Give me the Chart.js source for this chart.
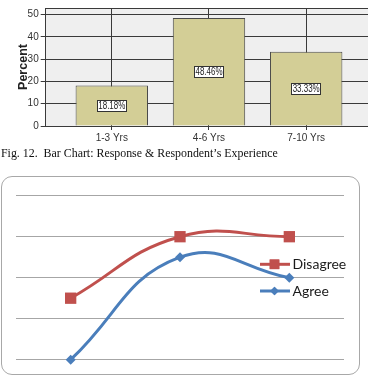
<!DOCTYPE html>
<html>
<head>
<meta charset="utf-8">
<script src="https://cdn.jsdelivr.net/npm/chart.js@4/dist/chart.umd.min.js"></script>
<style>
  html, body { margin:0; padding:0; background:#fff; width:368px; height:386px; overflow:hidden; position:relative; }
  #c1 { position:absolute; left:0; top:0; }
  #caption { position:absolute; left:1px; top:146px; font-family:"Liberation Serif","Times New Roman",serif; font-size:11.9px; line-height:14px; color:#111; white-space:nowrap; }
  #box { position:absolute; left:1px; top:176px; width:357px; height:197px; border:1.5px solid #a8a8a8; border-radius:11px; }
  #c2 { position:absolute; left:0; top:176px; }
</style>
</head>
<body>
<canvas id="c1" width="368" height="148"></canvas>
<div id="caption">Fig. 12.&nbsp; Bar Chart: Response &amp; Respondent’s Experience</div>
<div id="box"></div>
<canvas id="c2" width="368" height="210"></canvas>
<script>
// ---- Data: top bar chart ----
const barCategories = ['1-3 Yrs', '4-6 Yrs', '7-10 Yrs'];
const barPercent = [18.18, 48.46, 33.33];
const barYTicks = [0, 10, 20, 30, 40, 50];

// ---- Data: bottom line chart ----
const lineCategories = ['1-3 Yrs', '4-6 Yrs', '7-10 Yrs'];
const agreeValues = [0, 2.5, 2.0];
const disagreeValues = [1.5, 3.0, 3.0];
const lineSeriesNames = ['Agree', 'Disagree'];

// ---------- Top chart ----------
const plotFrame = {
  id: 'plotFrame',
  beforeDraw(chart) {
    const {ctx, chartArea: a} = chart;
    ctx.save();
    ctx.fillStyle = '#efefef';
    ctx.fillRect(a.left, a.top, a.right - a.left, a.bottom - a.top);
    ctx.restore();
  },
  afterDraw(chart) {
    const {ctx, chartArea: a} = chart;
    ctx.save();
    ctx.strokeStyle = '#3a3a3a';
    ctx.lineWidth = 1;
    ctx.beginPath();
    ctx.moveTo(a.left, Math.round(a.top) + 0.5);
    ctx.lineTo(a.right, Math.round(a.top) + 0.5);
    ctx.stroke();
    ctx.restore();
  }
};
const barLabels = {
  id: 'barLabels',
  afterDatasetsDraw(chart) {
    const {ctx} = chart;
    const meta = chart.getDatasetMeta(0);
    ctx.save();
    ctx.font = '10.5px "Liberation Sans", Arial, sans-serif';
    ctx.textAlign = 'center';
    ctx.textBaseline = 'middle';
    meta.data.forEach((bar, i) => {
      const txt = barPercent[i].toFixed(2) + '%';
      const cx = bar.x;
      const cy = (bar.y + bar.base) / 2;
      const sx = 0.76;
      const w = ctx.measureText(txt).width * sx + 3;
      const h = 12;
      ctx.fillStyle = '#ffffff';
      ctx.fillRect(Math.round(cx - w / 2), Math.round(cy - h / 2), Math.round(w), h);
      ctx.strokeStyle = '#333';
      ctx.lineWidth = 1;
      ctx.strokeRect(Math.round(cx - w / 2) + 0.5, Math.round(cy - h / 2) + 0.5, Math.round(w) - 1, h - 1);
      ctx.fillStyle = '#222';
      ctx.save();
      ctx.translate(cx, cy + 0.5);
      ctx.scale(sx, 1);
      ctx.fillText(txt, 0, 0);
      ctx.restore();
    });
    ctx.restore();
  }
};

new Chart(document.getElementById('c1'), {
  type: 'bar',
  data: {
    datasets: [{
      data: barPercent.map((v, i) => ({x: i, y: v})),
      backgroundColor: '#d3ce96',
      borderColor: '#4a4a4a',
      borderWidth: 1,
      categoryPercentage: 1,
      barPercentage: 0.745
    }]
  },
  options: {
    responsive: false,
    animation: false,
    layout: { padding: { top: 5.7, right: 0, left: 0, bottom: 0 } },
    plugins: { legend: { display: false }, tooltip: { enabled: false } },
    scales: {
      x: {
        type: 'linear',
        offset: false,
        min: -0.68,
        max: 2.636,
        afterFit(s) { s.height = 22; },
        afterBuildTicks(s) { s.ticks = barCategories.map((c, i) => ({value: i})); },
        ticks: {
          stepSize: 1,
          includeBounds: false,
          autoSkip: false,
          maxRotation: 0,
          padding: 2,
          color: '#333',
          font: { family: '"Liberation Sans", Arial, sans-serif', size: 10 },
          callback: (v) => barCategories[v] ?? ''
        },
        grid: { offset: false, color: '#3a3a3a', lineWidth: 1, tickLength: 4, drawTicks: true },
        border: { color: '#3a3a3a', width: 1 }
      },
      y: {
        min: 0,
        max: 53,
        afterFit(s) { s.width = 45.7; },
        afterBuildTicks(s) { s.ticks = barYTicks.map(v => ({value: v})); },
        ticks: {
          stepSize: 10,
          includeBounds: false,
          padding: 2,
          color: '#333',
          font: { family: '"Liberation Sans", Arial, sans-serif', size: 10 }
        },
        grid: { color: '#3a3a3a', lineWidth: 1, tickLength: 5 },
        border: { color: '#3a3a3a', width: 1 },
        title: {
          display: true,
          text: 'Percent',
          color: '#222',
          padding: { top: 16, bottom: 0 },
          font: { family: '"Liberation Sans", Arial, sans-serif', size: 12.5, weight: 'bold' }
        }
      }
    }
  },
  plugins: [plotFrame, barLabels]
});

// ---------- Bottom chart ----------
const blue = '#4a7ebb';
const red = '#c0504d';
const customLegend = {
  id: 'customLegend',
  afterDraw(chart) {
    const {ctx} = chart;
    const items = [
      {ds: 1, y: 88.3},
      {ds: 0, y: 115}
    ];
    ctx.save();
    items.forEach(it => {
      const ds = chart.data.datasets[it.ds];
      ctx.strokeStyle = ds.borderColor;
      ctx.lineWidth = 3;
      ctx.beginPath();
      ctx.moveTo(260, it.y);
      ctx.lineTo(290, it.y);
      ctx.stroke();
      ctx.fillStyle = ds.pointBackgroundColor;
      Chart.helpers.drawPoint(ctx, {pointStyle: ds.pointStyle, radius: ds.pointRadius * 0.85, borderWidth: 0, rotation: 0}, 274.5, it.y);
      ctx.fill();
      ctx.fillStyle = '#1a1a1a';
      ctx.font = '14px Lato, "Open Sans", sans-serif';
      ctx.textBaseline = 'middle';
      ctx.textAlign = 'left';
      ctx.fillText(ds.label, 292.5, it.y + 0.5);
    });
    ctx.restore();
  }
};

new Chart(document.getElementById('c2'), {
  type: 'line',
  data: {
    labels: lineCategories,
    datasets: [
      {
        label: lineSeriesNames[0],
        data: agreeValues,
        borderColor: blue,
        backgroundColor: blue,
        pointBackgroundColor: blue,
        pointBorderColor: blue,
        pointStyle: 'rectRot',
        pointRadius: 5,
        pointBorderWidth: 0,
        borderWidth: 3,
        tension: 0.45,
        clip: false
      },
      {
        label: lineSeriesNames[1],
        data: disagreeValues,
        borderColor: red,
        backgroundColor: red,
        pointBackgroundColor: red,
        pointBorderColor: red,
        pointStyle: 'rect',
        pointRadius: 8,
        pointBorderWidth: 0,
        borderWidth: 3,
        tension: 0.45,
        clip: false
      }
    ]
  },
  options: {
    responsive: false,
    animation: false,
    layout: { padding: { left: 16, right: 24, top: 19.7, bottom: 26.3 } },
    plugins: { legend: { display: false }, tooltip: { enabled: false } },
    scales: {
      x: { display: false, offset: true },
      y: {
        min: 0,
        max: 4,
        afterFit(s) { s.width = 0; },
        ticks: { display: false, stepSize: 1 },
        grid: { color: '#a6a6a6', lineWidth: 1, drawTicks: false },
        border: { display: false }
      }
    }
  },
  plugins: [customLegend]
});
</script>
</body>
</html>
